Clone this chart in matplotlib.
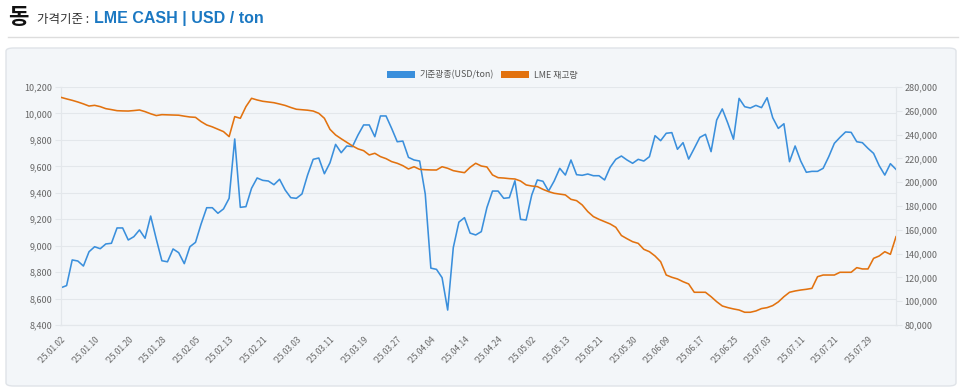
import numpy as np
import pandas as pd
import matplotlib
matplotlib.use("Agg")
import matplotlib.pyplot as plt
from matplotlib.patches import FancyBboxPatch, Patch
from matplotlib.lines import Line2D
from matplotlib.ticker import FuncFormatter, MultipleLocator

plt.rcParams["font.family"] = ["Noto Sans CJK KR", "DejaVu Sans"]

# LME trading days, 2025-01-02 .. 2025-08-05
holidays = ["2025-04-18", "2025-04-21", "2025-05-05", "2025-05-26"]
days = pd.bdate_range("2025-01-02", "2025-08-05", freq="C", holidays=holidays)
dates = [d.strftime("'%y.%m.%d") for d in days]

price = [
    8682, 8698, 8892, 8884, 8846, 8954, 8992, 8977, 9013, 9018,
    9134, 9134, 9043, 9068, 9119, 9056, 9224, 9050, 8886, 8878,
    8975, 8947, 8864, 8992, 9025, 9164, 9287, 9287, 9245, 9278,
    9358, 9807, 9290, 9295, 9434, 9512, 9494, 9489, 9461, 9502,
    9421, 9363, 9358, 9391, 9534, 9653, 9663, 9544, 9627, 9766,
    9703, 9754, 9749, 9837, 9913, 9913, 9824, 9981, 9981, 9887,
    9786, 9791, 9668, 9648, 9640, 9390, 8830, 8821, 8758, 8513,
    8985, 9178, 9212, 9095, 9081, 9106, 9288, 9413, 9413, 9358,
    9363, 9491, 9199, 9194, 9383, 9497, 9487, 9413, 9489, 9585,
    9534, 9648, 9537, 9532, 9542, 9529, 9529, 9497, 9593, 9653,
    9678, 9648, 9623, 9653, 9640, 9673, 9832, 9794, 9850, 9855,
    9729, 9779, 9655, 9736, 9819, 9842, 9711, 9950, 10034, 9925,
    9805, 10114, 10051, 10041, 10061, 10044, 10119, 9968, 9887, 9922,
    9635, 9754, 9640, 9555, 9562, 9562, 9585, 9673, 9774, 9819,
    9860, 9857, 9786, 9779, 9736, 9698, 9605, 9534, 9620, 9577,
]

stock = [
    271300, 270000, 268800, 267400, 265800, 264000, 264600, 263500, 261800, 261000,
    260100, 259900, 259800, 260200, 260700, 259300, 257500, 256000, 256750, 256600,
    256500, 256300, 255500, 254800, 254500, 250900, 248100, 246500, 244500, 242500,
    238300, 255100, 253700, 263500, 270500, 269100, 268000, 267400, 266800, 265700,
    264500, 262800, 261300, 260900, 260500, 259800, 257900, 253700, 244400, 239700,
    236500, 233500, 230500, 228000, 226500, 222900, 224300, 221500, 219800, 217300,
    215900, 213900, 211100, 213000, 210800, 210500, 210300, 210250, 213000, 211700,
    209700, 208800, 208000, 212500, 215900, 213600, 212800, 206100, 203800, 203500,
    203000, 202700, 201000, 197700, 196800, 196300, 194000, 192100, 190700, 190000,
    189300, 185600, 184500, 180900, 175300, 171100, 168800, 166900, 164900, 162100,
    155200, 152500, 150000, 148600, 143600, 141600, 138000, 133200, 122000, 120100,
    118700, 116400, 114500, 107500, 107500, 107500, 103800, 99600, 96000, 94600,
    93500, 92600, 90700, 90700, 91800, 93800, 94600, 96300, 99400, 103800,
    107500, 108600, 109400, 110000, 110800, 120600, 122000, 122000, 122000, 124300,
    124300, 124300, 128200, 127100, 127100, 136000, 138000, 141600, 139400, 154200,
]

blue = "#3a8fdc"
orange = "#e2720f"
grid = "#e3e7eb"
tick_col = "#666666"

W, H = 960, 388
fig = plt.figure(figsize=(W / 100, H / 100), dpi=100)
fig.patch.set_facecolor("white")

# header
fig.text(8 / W, 1 - 17 / H, "동", fontsize=16, fontweight="bold", color="#111111", va="center")
fig.text(37 / W, 1 - 19 / H, "가격기준 :", fontsize=9, color="#333333", va="center")
fig.text(94 / W, 1 - 19 / H, "LME CASH | USD / ton", fontsize=11.5, fontweight="bold",
         color="#1b78c2", va="center", family=["Liberation Sans", "Noto Sans CJK KR"])
fig.add_artist(Line2D([8 / W, 958 / W], [1 - 37 / H, 1 - 37 / H], color="#dddddd", lw=1))

# panel
panel = FancyBboxPatch((6 / W, 1 - 386 / H), 950 / W, 338 / H,
                       boxstyle="round,pad=0,rounding_size=0.008",
                       transform=fig.transFigure, facecolor="#f3f6f9",
                       edgecolor="#dfe3e8", lw=1, zorder=-10)
fig.patches.append(panel)

ax = fig.add_axes([61 / W, 1 - 325 / H, 835 / W, 238 / H])
ax.patch.set_visible(False)
ax2 = ax.twinx()
ax2.patch.set_visible(False)

ax.plot(dates, price, color=blue, lw=1.15, zorder=3)
ax2.plot(dates, stock, color=orange, lw=1.15, zorder=3)

ax.set_xlim(0, len(dates) - 1)
ax.set_ylim(8400, 10200)
ax2.set_ylim(80000, 280000)
ax.yaxis.set_major_locator(MultipleLocator(200))
ax2.yaxis.set_major_locator(MultipleLocator(20000))
fmt = FuncFormatter(lambda v, p: f"{v:,.0f}")
ax.yaxis.set_major_formatter(fmt)
ax2.yaxis.set_major_formatter(fmt)

ax.grid(axis="y", color=grid, lw=0.8)
ax.set_axisbelow(True)

step = 6
ax.set_xticks(range(0, len(dates), step))
ax.set_xticklabels(dates[::step], rotation=45, ha="right", va="top",
                   rotation_mode="anchor", fontsize=6, color=tick_col)
ax.tick_params(axis="x", length=0, pad=7)
ax.tick_params(axis="y", length=4.5, width=0.8, color=grid, labelsize=6.5,
               labelcolor=tick_col, pad=1.5)
ax2.tick_params(axis="y", length=4.5, width=0.8, color=grid, labelsize=6.5,
                labelcolor=tick_col, pad=1.5)

for a in (ax, ax2):
    for s in a.spines.values():
        s.set_color(grid)
        s.set_linewidth(0.8)
    a.spines["top"].set_visible(False)

handles = [Patch(facecolor=blue, edgecolor="none", label="기준광종(USD/ton)"),
           Patch(facecolor=orange, edgecolor="none", label="LME 재고량")]
fig.legend(handles=handles, loc="center", bbox_to_anchor=(482 / W, 1 - 75 / H),
           ncol=2, frameon=False, fontsize=6.4, handlelength=3.2, handleheight=1.0,
           handletextpad=0.5, columnspacing=0.8, labelcolor="#555555")

fig.savefig("out.png", dpi=100, facecolor="white")
